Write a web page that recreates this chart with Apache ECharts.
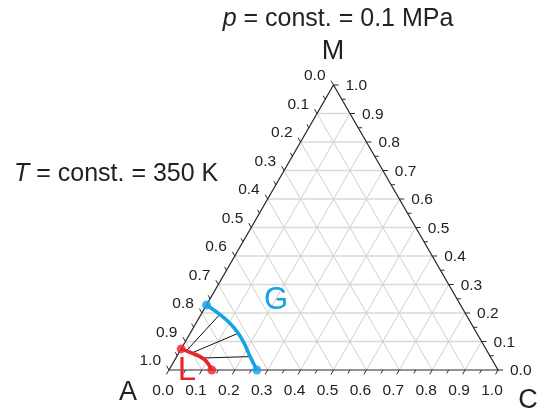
<!DOCTYPE html>
<html>
<head>
<meta charset="utf-8">
<script src="https://cdn.jsdelivr.net/npm/echarts@6/dist/echarts.min.js"></script>
<style>
  html, body { margin: 0; padding: 0; background: #fff; }
  #chart { width: 548px; height: 414px; }
</style>
</head>
<body>
<div id="chart"></div>
<script>
// Ternary diagram A–C–M. Every composition is written as [C fraction, M fraction];
// the A fraction is 1 − C − M.
const tickValues = [0, 0.1, 0.2, 0.3, 0.4, 0.5, 0.6, 0.7, 0.8, 0.9, 1.0];
const tickLabels = ['0.0', '0.1', '0.2', '0.3', '0.4', '0.5', '0.6', '0.7', '0.8', '0.9', '1.0'];
const minorStep = 0.05;

// Gas (G) and liquid (L) branches of the two-phase region
const gasBranch = [[0, 0.228], [0.057, 0.195], [0.103, 0.164], [0.146, 0.129], [0.187, 0.088], [0.223, 0.047], [0.267, 0]];
const liquidBranch = [[0, 0.074], [0.033, 0.062], [0.071, 0.047], [0.1, 0.029], [0.13, 0]];

// Tie lines: liquid end and gas end of each one
const tieLiquid = [[0.02, 0.07], [0.04, 0.06], [0.08, 0.042]];
const tieGas = [[0.057, 0.195], [0.146, 0.129], [0.223, 0.047]];

const SQ = Math.sqrt(3) / 2;
const toXY = (p) => [p[0] + p[1] / 2, p[1] * SQ];

const FONT = "'Liberation Sans', Arial, Helvetica, sans-serif";
const BLUE = '#14a3e4';
const RED = '#e8232b';

const chart = echarts.init(document.getElementById('chart'), null, { renderer: 'canvas' });

function seg(a, b, stroke, width, z) {
  return {
    type: 'line', z2: z || 0,
    shape: { x1: a[0], y1: a[1], x2: b[0], y2: b[1] },
    style: { stroke: stroke, lineWidth: width }
  };
}
function label(text, x, y, align, valign) {
  return {
    type: 'text', z2: 5,
    style: {
      text: text, x: x, y: y,
      align: align, textAlign: align,
      verticalAlign: valign, textVerticalAlign: valign,
      font: '15.5px ' + FONT, fill: '#222'
    }
  };
}

// Triangle frame, grid, ticks and tick labels, all placed through the cartesian axes
function renderFrame(params, api) {
  const P = (c, m) => api.coord(toXY([c, m]));
  const kids = [];
  for (let i = 1; i < 10; i++) {
    const v = i / 10;
    kids.push(seg(P(0, v), P(1 - v, v), '#d9d9d9', 1.6));      // constant M
    kids.push(seg(P(v, 0), P(v, 1 - v), '#cfcfcf', 1));        // constant C
    kids.push(seg(P(0, 1 - v), P(1 - v, 0), '#cfcfcf', 1));    // constant A
  }
  const a = P(0, 0), c = P(1, 0), m = P(0, 1);
  kids.push({
    type: 'polygon', z2: 2,
    shape: { points: [a, c, m] },
    style: { fill: null, stroke: '#2a2a2a', lineWidth: 1.2 }
  });
  const n = Math.round(1 / minorStep);
  for (let k = 0; k <= n; k++) {
    const t = k * minorStep;
    const len = k % 2 ? 4 : 5;
    const pb = P(t, 0);
    kids.push(seg(pb, [pb[0] - 0.5 * len, pb[1] + SQ * len], '#2a2a2a', 1, 2));
    const pr = P(1 - t, t);
    kids.push(seg(pr, [pr[0] + len, pr[1]], '#2a2a2a', 1, 2));
    const pl = P(0, 1 - t);
    kids.push(seg(pl, [pl[0] - 0.5 * len, pl[1] - SQ * len], '#2a2a2a', 1, 2));
  }
  tickValues.forEach((t, i) => {
    const pb = P(t, 0);
    kids.push(label(tickLabels[i], pb[0] - 6, pb[1] + 21, 'center', 'middle'));
    const pr = P(1 - t, t);
    kids.push(label(tickLabels[i], pr[0] + 12, pr[1] + 1, 'left', 'middle'));
    const pl = P(0, 1 - t);
    kids.push(label(tickLabels[i], pl[0] - 8, pl[1] - 9, 'right', 'middle'));
  });
  return { type: 'group', children: kids };
}

// Tie lines drawn as one custom item each
function renderTie(params, api) {
  const p1 = api.coord([api.value(0), api.value(1)]);
  const p2 = api.coord([api.value(2), api.value(3)]);
  return seg(p1, p2, '#111', 1);
}
const tieData = tieLiquid.map((l, i) => toXY(l).concat(toXY(tieGas[i])));

const ends = (arr) => [toXY(arr[0]), toXY(arr[arr.length - 1])];

function centered(text, x, y, size, color) {
  return {
    type: 'text', x: x, y: y, z: 10,
    style: {
      text: text, font: size + 'px ' + FONT, fill: color,
      align: 'center', verticalAlign: 'middle',
      textAlign: 'center', textVerticalAlign: 'middle'
    }
  };
}

chart.setOption({
  animation: false,
  grid: { left: 169, top: 85, width: 329, height: 285 },
  xAxis: { type: 'value', min: 0, max: 1, show: false },
  yAxis: { type: 'value', min: 0, max: SQ, show: false },
  series: [
    {
      type: 'custom', renderItem: renderFrame, data: [[0, 0]], clip: false, silent: true, z: 1
    },
    {
      type: 'custom', renderItem: renderTie, data: tieData, clip: false, silent: true, z: 3,
      encode: { x: [0, 2], y: [1, 3] }
    },
    {
      type: 'line', data: gasBranch.map(toXY), smooth: 0.35, showSymbol: false,
      lineStyle: { color: BLUE, width: 3.6 }, silent: true, z: 4
    },
    {
      type: 'line', data: liquidBranch.map(toXY), smooth: 0.35, showSymbol: false,
      lineStyle: { color: RED, width: 3.6 }, silent: true, z: 4
    },
    {
      type: 'scatter', data: ends(gasBranch), symbolSize: 9,
      itemStyle: { color: BLUE }, silent: true, z: 5
    },
    {
      type: 'scatter', data: ends(liquidBranch), symbolSize: 9,
      itemStyle: { color: RED }, silent: true, z: 5
    }
  ],
  graphic: [
    {
      type: 'text', x: 338, y: 19, z: 10,
      style: {
        text: '{i|p} = const. = 0.1 MPa',
        font: '25px ' + FONT, fill: '#222',
        align: 'center', verticalAlign: 'middle',
        textAlign: 'center', textVerticalAlign: 'middle',
        rich: { i: { fontStyle: 'italic', fontSize: 25, fontFamily: FONT } }
      }
    },
    {
      type: 'text', x: 14, y: 174, z: 10,
      style: {
        text: '{i|T} = const. = 350 K',
        font: '25px ' + FONT, fill: '#222',
        align: 'left', verticalAlign: 'middle',
        textAlign: 'left', textVerticalAlign: 'middle',
        rich: { i: { fontStyle: 'italic', fontSize: 25, fontFamily: FONT } }
      }
    },
    centered('M', 333, 52, 27, '#222'),
    centered('A', 128, 393, 27, '#222'),
    centered('C', 528, 401, 27, '#222'),
    centered('G', 276, 300, 31, BLUE),
    centered('L', 187, 371, 33, RED)
  ]
});
</script>
</body>
</html>
